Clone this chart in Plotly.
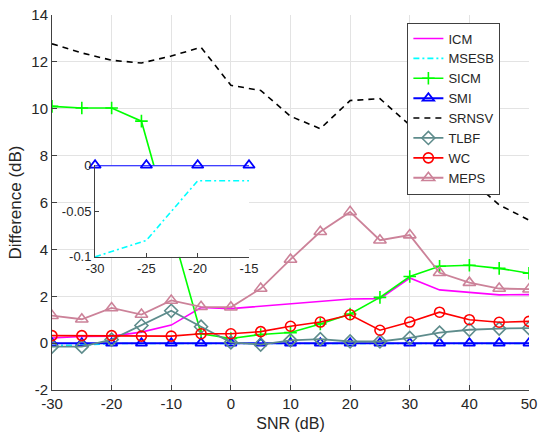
import plotly.graph_objects as go

snr = [-30, -25, -20, -15, -10, -5, 0, 5, 10, 15, 20, 25, 30, 35, 40, 45, 50]
icm = [0.22, 0.28, 0.30, 0.47, 0.77, 1.52, 1.47, 1.57, 1.66, 1.78, 1.88, 1.90, 2.78, 2.27, 2.16, 2.06, 2.07]
msesb = [-0.1, -0.082, -0.017, -0.017, -0.017, -0.017, -0.017, -0.017, -0.017, -0.017, -0.017, -0.017, -0.017, -0.017, -0.017, -0.017, -0.017]
sicm = [10.1, 10.03, 10.03, 9.47, 4.93, 0.40, 0.20, 0.37, 0.45, 0.82, 1.24, 1.95, 2.84, 3.28, 3.32, 3.19, 2.98]
smi = [0, 0, 0, 0, 0, 0, 0, 0, 0, 0, 0, 0, 0, 0, 0, 0, 0]
srnsv = [12.77, 12.38, 12.07, 11.95, 12.25, 12.62, 11.0, 10.78, 9.68, 9.15, 10.35, 10.43, 9.3, 8.3, 7.0, 5.9, 5.25]
tlbf = [-0.15, -0.15, 0.15, 0.75, 1.38, 0.70, 0.03, -0.06, 0.12, 0.17, 0.07, 0.07, 0.22, 0.45, 0.57, 0.62, 0.64]
wc = [0.32, 0.32, 0.32, 0.30, 0.30, 0.40, 0.40, 0.49, 0.72, 0.90, 1.21, 0.55, 0.90, 1.32, 1.00, 0.89, 0.93]
meps = [1.17, 1.02, 1.50, 1.22, 1.82, 1.55, 1.53, 2.33, 3.57, 4.75, 5.6, 4.39, 4.61, 3.0, 2.58, 2.33, 2.30]

x_ticks = [-30, -20, -10, 0, 10, 20, 30, 40, 50]
x_ticklabels = ["-30", "-20", "-10", "0", "10", "20", "30", "40", "50"]
y_ticks = [-2, 0, 2, 4, 6, 8, 10, 12, 14]
y_ticklabels = ["-2", "0", "2", "4", "6", "8", "10", "12", "14"]
inset_n = 4
inset_x_ticks = [-30, -25, -20, -15]
inset_x_ticklabels = ["-30", "-25", "-20", "-15"]
inset_y_ticks = [-0.1, -0.05, 0]
inset_y_ticklabels = ["-0.1", "-0.05", "0"]

C_ICM = "#ff00ff"
C_MSESB = "#00ffff"
C_SICM = "#00ff00"
C_SMI = "#0000ff"
C_SRNSV = "#000000"
C_TLBF = "#5e8c8c"
C_WC = "#ff0000"
C_MEPS = "#cc8299"

fig = go.Figure()

fig.add_trace(go.Scatter(x=snr, y=icm, name="ICM", mode="lines",
                         line=dict(color=C_ICM, width=1.6)))
fig.add_trace(go.Scatter(x=snr, y=msesb, name="MSESB", mode="lines",
                         line=dict(color=C_MSESB, width=1.6, dash="6px,3px,2px,3px")))
fig.add_trace(go.Scatter(x=snr, y=sicm, name="SICM", mode="lines+markers",
                         line=dict(color=C_SICM, width=1.6),
                         marker=dict(symbol="cross-thin", size=9, color=C_SICM,
                                     line=dict(color=C_SICM, width=1.6))))
fig.add_trace(go.Scatter(x=snr, y=smi, name="SMI", mode="lines+markers",
                         line=dict(color=C_SMI, width=2),
                         marker=dict(symbol="triangle-up-open", size=10, color=C_SMI,
                                     line=dict(color=C_SMI, width=1.8))))
fig.add_trace(go.Scatter(x=snr, y=srnsv, name="SRNSV", mode="lines",
                         line=dict(color=C_SRNSV, width=1.6, dash="6px,5px")))
fig.add_trace(go.Scatter(x=snr, y=tlbf, name="TLBF", mode="lines+markers",
                         line=dict(color=C_TLBF, width=1.8),
                         marker=dict(symbol="diamond-open", size=10, color=C_TLBF,
                                     line=dict(color=C_TLBF, width=1.6))))
fig.add_trace(go.Scatter(x=snr, y=wc, name="WC", mode="lines+markers",
                         line=dict(color=C_WC, width=1.6),
                         marker=dict(symbol="circle-open", size=10, color=C_WC,
                                     line=dict(color=C_WC, width=1.6))))
fig.add_trace(go.Scatter(x=snr, y=meps, name="MEPS", mode="lines+markers",
                         line=dict(color=C_MEPS, width=1.8),
                         marker=dict(symbol="triangle-up-open", size=11, color=C_MEPS,
                                     line=dict(color=C_MEPS, width=1.6))))

# inset
fig.add_trace(go.Scatter(x=snr[:inset_n], y=smi[:inset_n], mode="lines+markers",
                         xaxis="x2", yaxis="y2", showlegend=False, cliponaxis=False,
                         line=dict(color=C_SMI, width=2),
                         marker=dict(symbol="triangle-up-open", size=10, color=C_SMI,
                                     line=dict(color=C_SMI, width=1.8))))
fig.add_trace(go.Scatter(x=snr[:inset_n], y=msesb[:inset_n], mode="lines",
                         xaxis="x2", yaxis="y2", showlegend=False, cliponaxis=False,
                         line=dict(color=C_MSESB, width=1.6, dash="6px,3px,2px,3px")))

axis_color = "#404040"
text_color = "#262626"
grid_color = "#e3e3e3"

fig.update_layout(
    width=540, height=440,
    margin=dict(l=52, r=11, t=15, b=50, autoexpand=False),
    paper_bgcolor="white", plot_bgcolor="white",
    font=dict(family="Liberation Sans, Arial, sans-serif", color=text_color, size=14),
    xaxis=dict(range=[-30, 50], tickvals=x_ticks, ticktext=x_ticklabels,
               showgrid=True, gridcolor=grid_color, gridwidth=1, zeroline=False,
               showline=True, linecolor=axis_color, linewidth=1, automargin=False,
               ticks="inside", ticklen=5, tickcolor=axis_color,
               tickfont=dict(size=15),
               title=dict(text="SNR (dB)", font=dict(size=16), standoff=6)),
    yaxis=dict(range=[-2, 14], tickvals=y_ticks, ticktext=y_ticklabels,
               showgrid=True, gridcolor=grid_color, gridwidth=1, zeroline=False,
               showline=True, linecolor=axis_color, linewidth=1, automargin=False,
               ticks="inside", ticklen=5, tickcolor=axis_color,
               tickfont=dict(size=15),
               title=dict(text="Difference (dB)", font=dict(size=17), standoff=5)),
    xaxis2=dict(domain=[0.0903, 0.413], anchor="y2", range=[-30, -15],
                tickvals=inset_x_ticks, ticktext=inset_x_ticklabels,
                showgrid=False, zeroline=False, showline=True, automargin=False,
                linecolor=axis_color, linewidth=1, ticks="inside", ticklen=4,
                tickcolor=axis_color, tickfont=dict(size=13)),
    yaxis2=dict(domain=[0.355, 0.5995], anchor="x2", range=[-0.1, 0],
                tickvals=inset_y_ticks, ticktext=inset_y_ticklabels,
                showgrid=False, zeroline=False, showline=True, automargin=False,
                linecolor=axis_color, linewidth=1, ticks="inside", ticklen=4,
                tickcolor=axis_color, tickfont=dict(size=13)),
    legend=dict(x=0.94, y=0.98, xanchor="right", yanchor="top",
                bgcolor="white", bordercolor=axis_color, borderwidth=1,
                font=dict(size=13, color=text_color), tracegroupgap=0,
                itemwidth=30),
    showlegend=True,
)

fig.write_html("out.html")
